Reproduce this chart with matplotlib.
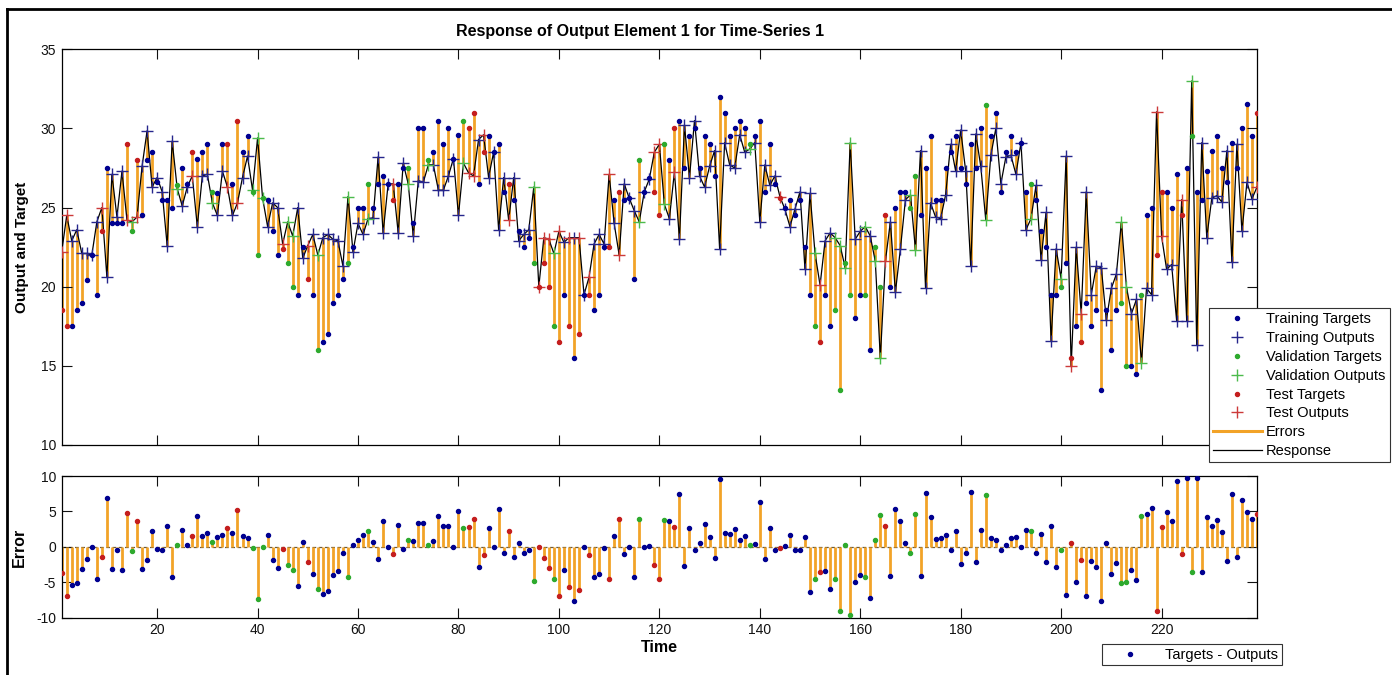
import numpy as np
import matplotlib
matplotlib.use("Agg")
import matplotlib.pyplot as plt
from matplotlib.lines import Line2D

plt.rcParams['font.family'] = ['Liberation Sans', 'DejaVu Sans']
plt.rcParams['axes.unicode_minus'] = False

# values, time steps 1..239
targets = [
    18.5, 17.5, 17.5, 18.5, 19.0, 20.45, 22.0, 19.5, 23.5, 27.5,
    24.0, 24.0, 24.0, 29.0, 23.5, 28.0, 24.5, 28.0, 28.5, 26.6,
    25.5, 25.5, 25.0, 26.4, 27.5, 26.5, 28.5, 28.1, 28.5, 29.0,
    26.0, 25.9, 29.0, 29.0, 26.5, 30.5, 28.5, 29.5, 26.0, 22.0,
    25.6, 25.5, 23.5, 22.0, 22.4, 21.5, 20.0, 19.5, 22.5, 20.5,
    19.5, 16.0, 16.5, 17.0, 19.0, 19.5, 20.5, 21.5, 22.5, 25.0,
    25.0, 26.5, 25.0, 26.5, 27.0, 26.5, 25.5, 26.5, 27.5, 27.5,
    24.0, 30.0, 30.0, 28.0, 28.5, 30.5, 29.0, 30.0, 28.1, 29.6,
    30.5, 30.0, 31.0, 26.5, 28.5, 29.5, 28.5, 29.0, 26.0, 26.5,
    25.5, 23.5, 22.5, 23.1, 21.5, 20.0, 21.5, 20.0, 17.5, 16.5,
    19.5, 17.5, 15.5, 17.0, 19.5, 19.5, 18.5, 19.5, 22.5, 22.5,
    25.5, 26.0, 25.5, 25.6, 20.5, 28.0, 26.0, 26.9, 26.0, 24.5,
    29.0, 28.0, 30.0, 30.5, 27.5, 29.5, 30.0, 27.5, 29.5, 29.0,
    27.0, 32.0, 31.0, 29.5, 30.0, 30.5, 30.0, 29.0, 29.5, 30.5,
    26.0, 29.0, 26.5, 25.6, 25.0, 25.5, 24.5, 25.5, 22.5, 19.5,
    17.5, 16.5, 19.5, 17.5, 18.5, 13.5, 21.5, 19.5, 18.0, 19.5,
    19.5, 16.0, 22.5, 20.0, 24.5, 20.0, 25.0, 26.0, 26.0, 25.0,
    27.0, 24.5, 27.5, 29.5, 25.5, 25.5, 27.5, 28.5, 29.5, 27.5,
    26.5, 29.0, 27.5, 30.0, 31.5, 29.5, 31.0, 26.0, 28.5, 29.5,
    28.5, 29.1, 26.0, 26.5, 25.5, 23.5, 22.5, 19.5, 19.5, 20.0,
    21.5, 15.5, 17.5, 16.5, 19.0, 17.5, 18.5, 13.5, 18.5, 16.0,
    18.5, 19.0, 15.0, 15.0, 14.5, 19.5, 24.5, 25.0, 22.0, 26.0,
    26.0, 25.0, 27.1, 24.5, 27.5, 29.5, 26.0, 25.5, 27.3, 28.6,
    29.5, 27.5, 26.6, 29.05, 27.5, 30.05, 31.55, 29.55, 31.0,
]

outputs = [
    22.2, 24.5, 22.9, 23.6, 22.1, 22.1, 22.0, 24.1, 25.0, 20.6,
    27.1, 24.4, 27.3, 24.2, 24.1, 24.4, 27.6, 29.85, 26.3, 26.9,
    26.0, 22.6, 29.2, 26.2, 25.1, 26.3, 27.0, 23.8, 27.0, 27.1,
    25.3, 24.5, 27.3, 26.3, 24.5, 25.3, 26.9, 28.25, 26.1, 29.4,
    25.6, 23.8, 25.3, 25.0, 22.7, 24.1, 23.2, 25.0, 21.8, 22.6,
    23.3, 22.0, 23.1, 23.3, 23.0, 22.9, 21.3, 25.7, 22.2, 24.0,
    23.3, 24.3, 24.35, 28.2, 23.4, 26.5, 26.5, 23.4, 27.8, 26.5,
    23.2, 26.7, 26.6, 27.7, 27.7, 26.1, 26.1, 27.0, 28.1, 24.5,
    27.8, 27.2, 27.0, 29.3, 29.6, 26.9, 28.5, 23.6, 26.9, 24.2,
    26.9, 22.9, 23.3, 23.6, 26.3, 20.0, 23.1, 23.0, 22.1, 23.5,
    22.8, 23.1, 23.1, 23.1, 19.5, 20.6, 22.7, 23.3, 22.7, 27.1,
    24.0, 22.0, 26.5, 25.6, 24.8, 24.1, 26.0, 26.8, 28.5, 29.0,
    25.2, 24.3, 27.25, 23.0, 30.2, 26.9, 30.5, 27.0, 26.3, 27.6,
    28.6, 22.4, 29.1, 27.7, 27.5, 29.6, 28.5, 28.7, 29.1, 24.1,
    27.7, 26.4, 27.0, 25.7, 24.9, 23.8, 24.9, 26.0, 21.1, 25.9,
    22.1, 20.1, 22.9, 23.4, 23.1, 22.6, 21.2, 29.1, 23.0, 23.5,
    23.8, 23.2, 21.6, 15.5, 21.6, 24.1, 19.65, 22.4, 25.5, 25.8,
    22.3, 28.6, 19.9, 25.3, 24.4, 24.3, 25.8, 29.0, 27.3, 29.9,
    27.3, 21.3, 29.65, 27.6, 24.2, 28.3, 30.0, 26.5, 28.2, 28.3,
    27.1, 29.1, 23.6, 24.3, 26.4, 21.7, 24.7, 16.6, 22.4, 20.5,
    28.25, 15.0, 22.5, 18.3, 26.0, 19.5, 21.3, 21.2, 17.9, 19.9,
    20.8, 24.1, 20.0, 18.3, 19.2, 15.2, 19.9, 19.5, 31.05, 23.2,
    21.1, 21.4, 17.85, 25.5, 17.85, 33.0, 16.3, 29.1, 23.1, 25.6,
    25.75, 25.35, 28.6, 21.55, 29.0, 23.5, 26.6, 25.55, 26.3,
]

# b = training, g = validation, r = test
sets = ("rrbbbbbbrb" "bbbrgrbbbb" "bbbgbbrbbb" "gbbrbrbbgg" "gbbbrggbbr"
        "bgbbbbbgbb" "bgbbbbrbbg" "bbbgbbbbbb" "grrbrbbbbr" "bbbbgrrrgr"
        "brbrbrbbbr" "brbbbgbbrr" "gbrbbbbbbb" "bbbbbbbgbb" "bbbrbbbbbb"
        "grbbggggbb" "gbggrbbbbg" "gbbbbbbbbb" "bbbbgbbbbb" "bbbgbbbbbg"
        "brbrbbbbbb" "bggbbgbbrr" "bbbrbgbbbb" "bbbbbbbbr")

setNames = {'b': 'Training', 'g': 'Validation', 'r': 'Test'}
dotCol = {'b': '#000090', 'g': '#2eaa2e', 'r': '#c41e1e'}
plusCol = {'b': '#26268c', 'g': '#4cbb4c', 'r': '#cc3a3a'}
ORANGE = '#f2a328'
DOT_MS = 2.9

t = np.arange(1, len(targets) + 1)
T = np.array(targets)
O = np.array(outputs)
err = T - O
codes = np.array(list(sets))

W, H = 1392, 675
fig = plt.figure(figsize=(W / 100, H / 100), dpi=100)


def box(l, top, r, b):
    return [l / W, 1 - b / H, (r - l) / W, (b - top) / H]


axTop = fig.add_axes(box(61.7, 49.3, 1257, 445))
axErr = fig.add_axes(box(61.7, 476, 1257, 617.7))

#top panel: errors, response line, markers
axTop.vlines(t, T, O, color=ORANGE, lw=2.0, zorder=1)
axTop.plot(t, O, color='k', lw=0.9, zorder=2)
for c in 'bgr':
    m = codes == c
    axTop.plot(t[m], T[m], ls='none', marker='o', ms=DOT_MS, color=dotCol[c], zorder=4)
    axTop.plot(t[m], O[m], ls='none', marker='+', ms=8, mew=1.0, color=plusCol[c], zorder=3)

axTop.set_xlim(1, 239)
axTop.set_ylim(10, 35)
axTop.set_yticks([10, 15, 20, 25, 30, 35])
axTop.set_xticks(range(20, 221, 20))
axTop.tick_params(labelbottom=False)

#error panel
axErr.axhline(0, color='#6b5a3a', lw=0.9, ls=(0, (3, 2)), zorder=1)
axErr.vlines(t, 0, err, color=ORANGE, lw=2.0, zorder=2)
for c in 'bgr':
    m = codes == c
    axErr.plot(t[m], err[m], ls='none', marker='o', ms=DOT_MS, color=dotCol[c], zorder=3)
axErr.set_xlim(1, 239)
axErr.set_ylim(-10, 10)
axErr.set_yticks([-10, -5, 0, 5, 10])
axErr.set_xticks(range(20, 221, 20))

for ax in (axTop, axErr):
    ax.tick_params(direction='in', length=7, width=0.8, top=True, right=True,
                   labelsize=10, colors='#111111', pad=4)
    for s in ax.spines.values():
        s.set_linewidth(0.9)

fig.text(640 / W, 1 - 31.7 / H, 'Response of Output Element 1 for Time-Series 1',
         ha='center', va='center', fontsize=11.5, fontweight='bold')
fig.text(22 / W, 1 - 247 / H, 'Output and Target', rotation=90,
         ha='center', va='center', fontsize=11, fontweight='bold')
fig.text(19 / W, 1 - 547 / H, 'Error', rotation=90,
         ha='center', va='center', fontsize=11.5, fontweight='bold')
fig.text(659 / W, 1 - 647 / H, 'Time', ha='center', va='center',
         fontsize=11.5, fontweight='bold')

#legends
handles = []
labels = []
for c in 'bgr':
    handles.append(Line2D([], [], ls='none', marker='o', ms=DOT_MS, color=dotCol[c]))
    labels.append(setNames[c] + ' Targets')
    handles.append(Line2D([], [], ls='none', marker='+', ms=8, mew=1.0, color=plusCol[c]))
    labels.append(setNames[c] + ' Outputs')
handles.append(Line2D([], [], color=ORANGE, lw=2.2))
labels.append('Errors')
handles.append(Line2D([], [], color='k', lw=0.9))
labels.append('Response')

leg = fig.legend(handles, labels, loc='upper left', bbox_to_anchor=(1209 / W, 1 - 308 / H),
                 fontsize=10.5, fancybox=False, edgecolor='#333333', framealpha=1,
                 borderpad=0.3, labelspacing=0.33, handlelength=3.3,
                 handletextpad=0.3, borderaxespad=0)
leg.get_frame().set_linewidth(0.8)

leg2 = fig.legend([Line2D([], [], ls='none', marker='o', ms=DOT_MS, color=dotCol['b'])],
                  ['Targets - Outputs'], loc='upper left',
                  bbox_to_anchor=(1102 / W, 1 - 644 / H), fontsize=10.5, fancybox=False,
                  edgecolor='#333333', framealpha=1, borderpad=0.25, handlelength=3.3,
                  handletextpad=0.8, borderaxespad=0)
leg2.get_frame().set_linewidth(0.8)

#outer frame (left and top edges visible)
fig.add_artist(Line2D([7 / W, 7 / W], [0, 1 - 9 / H], color='k', lw=2, transform=fig.transFigure))
fig.add_artist(Line2D([7 / W, 1], [1 - 9 / H, 1 - 9 / H], color='k', lw=2, transform=fig.transFigure))

fig.savefig('out.png', dpi=100)
